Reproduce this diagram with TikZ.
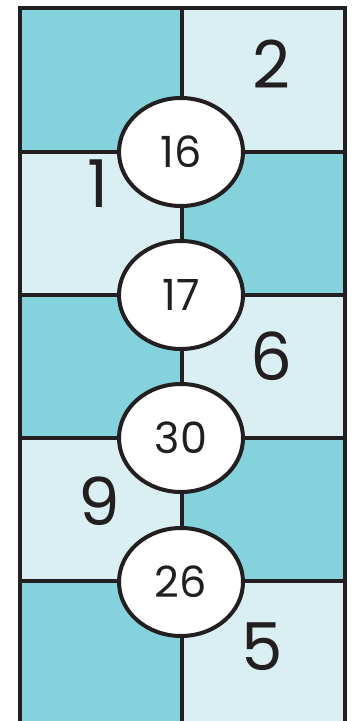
\documentclass[tikz,border=0pt]{standalone}
\usepackage{fontspec}
\newfontfamily\numfont{Poppins}
\usetikzlibrary{shapes.geometric}
\definecolor{ink}{HTML}{231F20}
\definecolor{tealdark}{HTML}{84D3DC}
\definecolor{teallight}{HTML}{DAEFF2}
\tikzset{
  gridline/.style={draw=ink, line width=3.5pt},
  disc/.style={ellipse, draw=ink, fill=white, line width=4pt, inner sep=0pt,
               minimum width=124pt, minimum height=108pt, text=ink,
               font=\numfont\fontsize{43}{43}\selectfont},
  bignum/.style={inner sep=0pt, text=ink, font=\numfont\fontsize{66}{66}\selectfont},
}
\begin{document}
\begin{tikzpicture}[x=1pt, y=-1pt]
\useasboundingbox (0,0) rectangle (358,721);
\fill[white] (0,0) rectangle (358,721);

% the cells, row by row
\foreach \top/\bot/\lc/\rc in {8/152/tealdark/teallight, 152/295/teallight/tealdark,
    295/438/tealdark/teallight, 438/581/teallight/tealdark, 581/721/tealdark/teallight} {
  \fill[\lc] (20,\top) rectangle (182,\bot);
  \fill[\rc] (182,\top) rectangle (345,\bot);
}

% lines of the grid
\draw[gridline] (20,721) -- (20,8) -- (345,8) -- (345,721);
\draw[gridline] (182,8) -- (182,721);
\foreach \y in {152,295,438,581}
  \draw[gridline] (20,\y) -- (345,\y);

% the ovals
\node[disc] (c16) at (181,152) {16};
\node[disc] (c17) at (181,295) {17};
\node[disc] (c30) at (181,438) {30};
\node[disc] (c26) at (181,582) {26};

% numbers in the cells
\node[bignum] (n2) at (271,64) {2};
\node[bignum] (n1) at (98,184) {1};
\node[bignum] (n6) at (271,356) {6};
\node[bignum] (n9) at (99,501) {9};
\node[bignum] (n5) at (262,647) {5};
\end{tikzpicture}
\end{document}
